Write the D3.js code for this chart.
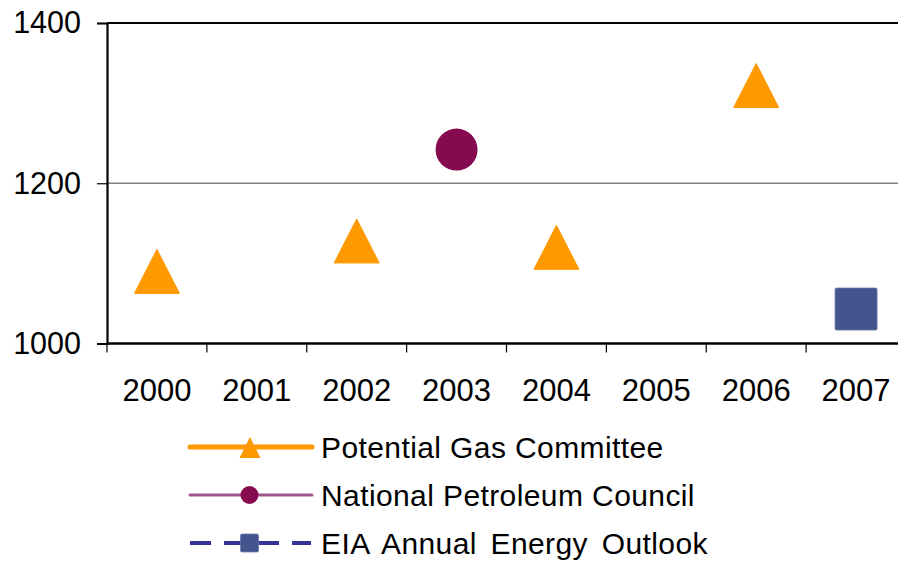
<!DOCTYPE html>
<html>
<head>
<meta charset="utf-8">
<script src="https://cdn.jsdelivr.net/npm/d3@7"></script>
<style>
  body { margin: 0; background: #fff; }
  svg { display: block; font-family: "Liberation Sans", Arial, sans-serif; }
</style>
</head>
<body>
<div id="chart-area"></div>
<script>
// data
const years = ["2000", "2001", "2002", "2003", "2004", "2005", "2006", "2007"];
const yTicks = [1000, 1200, 1400];

const pgcYears = ["2000", "2002", "2004", "2006"];
const pgcValues = [1090, 1128, 1120, 1322];

const npcYears = ["2003"];
const npcValues = [1242];

const eiaYears = ["2007"];
const eiaValues = [1043];

const seriesNames = ["Potential Gas Committee", "National Petroleum Council", "EIA Annual Energy Outlook"];

const width = 898, height = 562;

var svg = d3.select("#chart-area")
	.append("svg")
		.attr("width", width)
		.attr("height", height);

// scales
var x = d3.scaleBand()
	.domain(years)
	.range([107, 906]);

var y = d3.scaleLinear()
	.domain([1000, 1400])
	.range([343.5, 23]);

// gridline at 1200
svg.append("line")
	.attr("x1", 107).attr("x2", width)
	.attr("y1", y(1200)).attr("y2", y(1200))
	.attr("stroke", "#808080")
	.attr("stroke-width", 1.5);

// top border
svg.append("line")
	.attr("x1", 107).attr("x2", width)
	.attr("y1", y(1400)).attr("y2", y(1400))
	.attr("stroke", "#000")
	.attr("stroke-width", 2);

// y-axis
var yAxisCall = d3.axisLeft(y)
	.tickValues(yTicks)
	.tickSize(10)
	.tickPadding(16)
	.tickFormat(d3.format("d"));
var yAxis = svg.append("g")
	.attr("transform", "translate(107, 0)")
	.call(yAxisCall);
yAxis.select(".domain").attr("stroke", "#000").attr("stroke-width", 2.2);
yAxis.selectAll(".tick line").attr("stroke", "#000").attr("stroke-width", 1.2);
yAxis.selectAll("text")
	.attr("font-size", 30.5)
	.attr("fill", "#000");

// x-axis (labels centred in bands, ticks on band edges)
var xAxisCall = d3.axisBottom(x)
	.tickSize(0)
	.tickPadding(35);
var xAxis = svg.append("g")
	.attr("transform", "translate(0, " + y(1000) + ")")
	.call(xAxisCall);
xAxis.select(".domain").remove();
xAxis.selectAll("text")
	.attr("font-size", 31)
	.attr("fill", "#000");

svg.append("line")
	.attr("x1", 107).attr("x2", width)
	.attr("y1", y(1000)).attr("y2", y(1000))
	.attr("stroke", "#000")
	.attr("stroke-width", 2.5);

svg.selectAll(".xtick")
	.data(years)
	.enter()
	.append("line")
		.attr("class", "xtick")
		.attr("x1", (d) => x(d)).attr("x2", (d) => x(d))
		.attr("y1", y(1000)).attr("y2", y(1000) + 9)
		.attr("stroke", "#000")
		.attr("stroke-width", 1.2);

// markers
const tri = (w, h) => "M0," + (-h / 2) + "L" + (w / 2) + "," + (h / 2) + "L" + (-w / 2) + "," + (h / 2) + "Z";

svg.selectAll(".pgc")
	.data(pgcYears)
	.enter()
	.append("path")
		.attr("class", "pgc")
		.attr("d", tri(45, 44))
		.attr("transform", (d, i) => "translate(" + (x(d) + x.bandwidth() / 2) + "," + y(pgcValues[i]) + ")")
		.attr("fill", "#FF9900")
		.attr("stroke", "#FF9900")
		.attr("stroke-linejoin", "round")
		.attr("stroke-width", 1);

svg.selectAll(".npc")
	.data(npcYears)
	.enter()
	.append("circle")
		.attr("class", "npc")
		.attr("cx", (d) => x(d) + x.bandwidth() / 2)
		.attr("cy", (d, i) => y(npcValues[i]))
		.attr("r", 21)
		.attr("fill", "#850A50");

svg.selectAll(".eia")
	.data(eiaYears)
	.enter()
	.append("rect")
		.attr("class", "eia")
		.attr("x", (d) => x(d) + x.bandwidth() / 2 - 21)
		.attr("y", (d, i) => y(eiaValues[i]) - 21)
		.attr("width", 42)
		.attr("height", 42)
		.attr("rx", 1.5)
		.attr("fill", "#44548C")
		.attr("stroke", "#6A78A8")
		.attr("stroke-width", 0.8);

// legend
var legend = svg.append("g");
const rowY = [447, 495, 543];

// Potential Gas Committee
legend.append("line")
	.attr("x1", 190).attr("x2", 312)
	.attr("y1", rowY[0]).attr("y2", rowY[0])
	.attr("stroke", "#FF9900")
	.attr("stroke-width", 5)
	.attr("stroke-linecap", "round");
legend.append("path")
	.attr("d", tri(21, 21))
	.attr("transform", "translate(250," + (rowY[0] + 0.5) + ")")
	.attr("fill", "#FF9900");

// National Petroleum Council
legend.append("line")
	.attr("x1", 190).attr("x2", 312)
	.attr("y1", rowY[1]).attr("y2", rowY[1])
	.attr("stroke", "#A0588A")
	.attr("stroke-width", 3)
	.attr("stroke-linecap", "round");
legend.append("circle")
	.attr("cx", 249.5).attr("cy", rowY[1])
	.attr("r", 9)
	.attr("fill", "#850A50");

// EIA Annual Energy Outlook
legend.append("line")
	.attr("x1", 190).attr("x2", 311)
	.attr("y1", rowY[2]).attr("y2", rowY[2])
	.attr("stroke", "#333399")
	.attr("stroke-width", 4)
	.attr("stroke-dasharray", "21,13");
legend.append("rect")
	.attr("x", 240.5).attr("y", rowY[2] - 9)
	.attr("width", 18).attr("height", 18)
	.attr("rx", 1.5)
	.attr("fill", "#44548C")
	.attr("stroke", "#6A78A8")
	.attr("stroke-width", 0.8);

const wordGap = [0, 0, 5];
legend.selectAll(".ltext")
	.data(seriesNames)
	.enter()
	.append("text")
		.attr("class", "ltext")
		.attr("x", 321)
		.attr("y", (d, i) => rowY[i])
		.attr("dy", "0.36em")
		.attr("font-size", 30)
		.attr("letter-spacing", 0.4)
		.attr("word-spacing", (d, i) => wordGap[i])
		.attr("fill", "#000")
		.text((d) => d);
</script>
</body>
</html>
